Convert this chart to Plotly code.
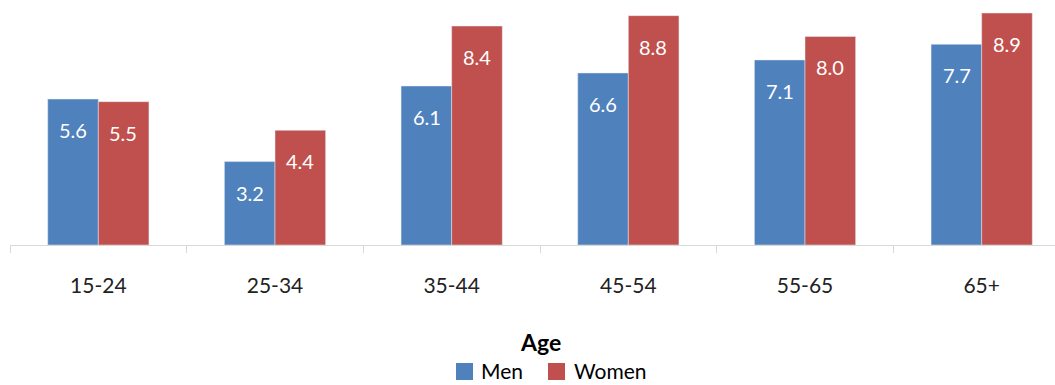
import plotly.graph_objects as go

categories = ["15-24", "25-34", "35-44", "45-54", "55-65", "65+"]
men = [5.6, 3.2, 6.1, 6.6, 7.1, 7.7]
women = [5.5, 4.4, 8.4, 8.8, 8.0, 8.9]
series_names = ["Men", "Women"]

BLUE = "#4F81BD"
RED = "#C0504D"
FONT = "Lato"

W, H = 1055, 385
L, B = 10, 140
PW, PH = W - L, H - B


def px(x):
    return (x - L) / PW


def py(y):
    return (PH - y) / PH


fig = go.Figure()
fig.add_trace(go.Bar(x=categories, y=men, name=series_names[0], marker_color=BLUE, showlegend=False))
fig.add_trace(go.Bar(x=categories, y=women, name=series_names[1], marker_color=RED, showlegend=False))

annotations = []
for series, shift in ((men, -25), (women, 25)):
    for c, v in zip(categories, series):
        annotations.append(dict(x=c, y=v, xref="x", yref="y", text=f"{v:.1f}",
                                showarrow=False, xshift=shift, yshift=-31,
                                font=dict(family=FONT, size=20, color="white")))
annotations.append(dict(x=px(540), y=py(342), xref="paper", yref="paper",
                        xanchor="center", yanchor="middle",
                        text="<b>Age</b>", showarrow=False,
                        font=dict(family=FONT, size=23, color="black")))

# manual legend (reference legend sits at the very bottom edge)
shapes = []
legend_items = [(series_names[0], BLUE, 456, 479), (series_names[1], RED, 548, 572)]
for name, col, sx, tx in legend_items:
    shapes.append(dict(type="rect", xref="paper", yref="paper",
                       x0=px(sx), x1=px(sx + 17), y0=py(380), y1=py(363),
                       fillcolor=col, line_width=0))
    annotations.append(dict(x=px(tx), y=py(370), xref="paper", yref="paper",
                            xanchor="left", yanchor="middle", text=name, showarrow=False,
                            font=dict(family=FONT, size=21, color="black")))

fig.update_layout(
    width=W, height=H,
    margin=dict(l=L, r=0, t=0, b=B, autoexpand=False),
    paper_bgcolor="white", plot_bgcolor="white",
    barmode="group", bargap=0.427, bargroupgap=0,
    font=dict(family=FONT, size=20, color="#222222"),
    annotations=annotations, shapes=shapes,
    showlegend=False,
    xaxis=dict(range=[-0.5, 5.415], showline=True, linecolor="#d9d9d9", linewidth=1,
               ticks="outside", tickson="boundaries", ticklen=7, tickcolor="#d9d9d9",
               ticklabelstandoff=22, tickfont=dict(family=FONT, size=21, color="#222222"),
               showgrid=False, fixedrange=True, automargin=False),
    yaxis=dict(range=[0, 9.4], visible=False, showgrid=False, zeroline=False),
)

fig.write_html("out.html")
